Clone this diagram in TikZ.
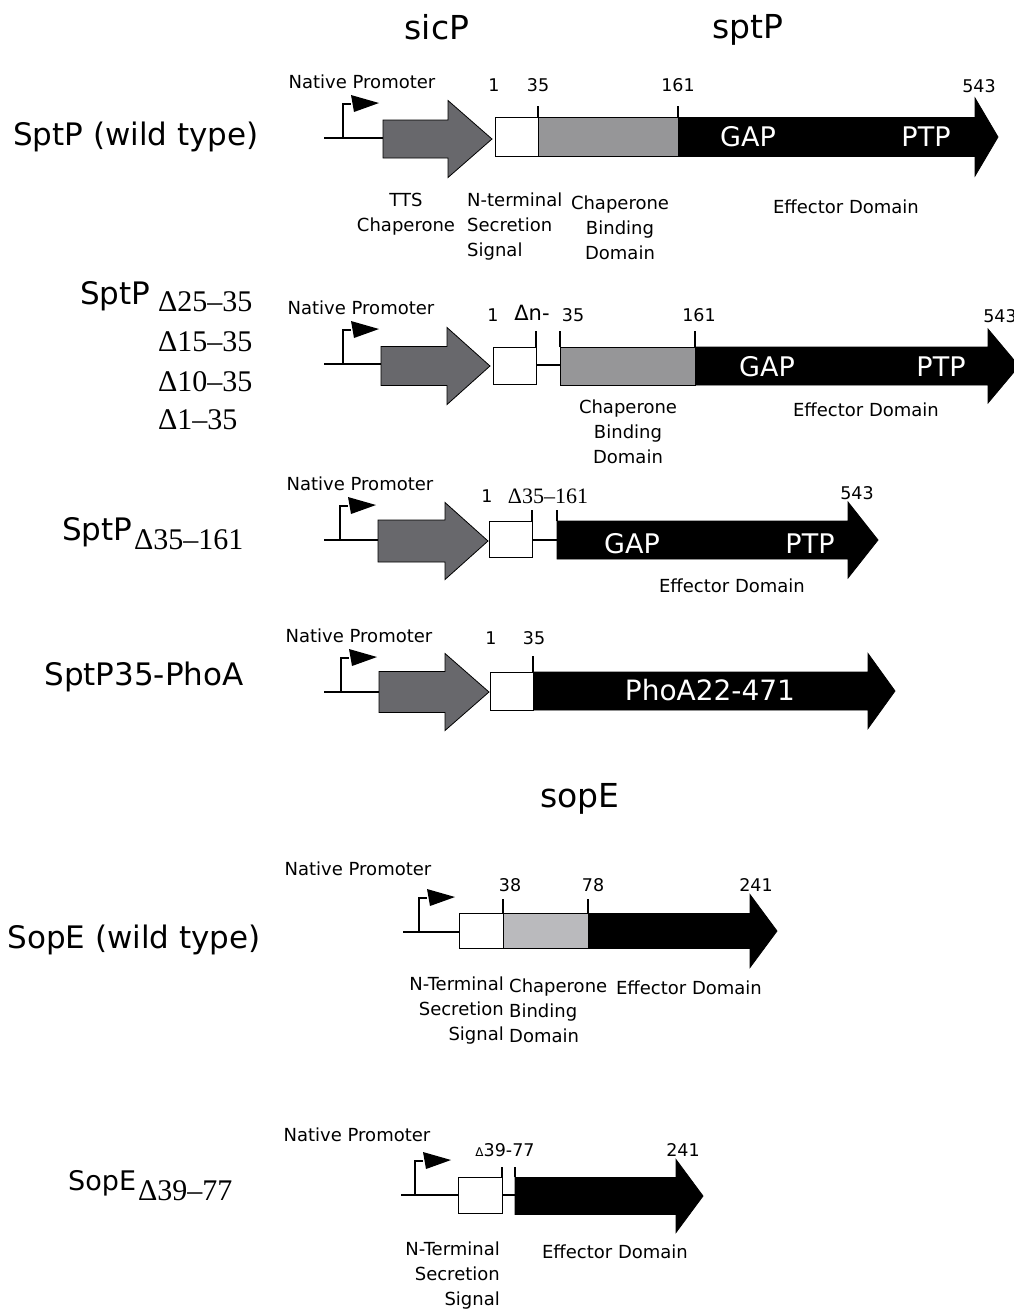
\documentclass[tikz,border=0pt]{standalone}
\usepackage{fontspec}
\setmainfont{DejaVu Sans}
\newfontfamily\serf{Liberation Serif}

% promoter: line start x, line end x, stalk x, line y
\newcommand{\promoter}[4]{%
  \draw[wire] (#1,#4) -- (#2,#4);
  \draw[wire] (#3,#4) -- (#3,#4-34) -- (#3+8,#4-34);
  \fill (#3+8,#4-43) -- (#3+36,#4-35) -- (#3+11,#4-26) -- cycle;}
% block arrow: start x, head x, tip x, mid y, half body, half head, colour
\newcommand{\genearrow}[7]{%
  \filldraw[fill=#7,draw=black,line width=0.8pt] (#1,#4-#5) -- (#2,#4-#5) -- (#2,#4-#6)
    -- (#3,#4) -- (#2,#4+#6) -- (#2,#4+#5) -- (#1,#4+#5) -- cycle;}

\definecolor{sicgray}{RGB}{104,104,108}
\definecolor{cbdgray}{RGB}{150,150,152}
\definecolor{sopgray}{RGB}{186,186,189}

\begin{document}
\begin{tikzpicture}[x=1pt,y=-1pt,
    wire/.style={line width=1.3pt},
    segbox/.style={draw=black,line width=1pt},
    lab/.style={inner sep=0pt,font=\fontsize{18}{25}\selectfont},
    num/.style={inner sep=0pt,font=\fontsize{17.5}{20}\selectfont},
    dom/.style={inner sep=0pt,text=white,font=\fontsize{27}{30}\selectfont},
    big/.style={inner sep=0pt,font=\fontsize{31}{36}\selectfont},
    gene/.style={inner sep=0pt,font=\fontsize{33}{38}\selectfont},
    del/.style={inner sep=0pt,font=\serf\fontsize{30}{34}\selectfont}]
\useasboundingbox (0,0) rectangle (1013,1310);

% titles
\node[gene] (sicP) at (437,27) {sicP};
\node[gene] (sptP) at (748,30) {sptP};
\node[gene] (sopE) at (580,799) {sopE};

% ---- SptP wild type
\node[big] (wt1) at (136,137) {SptP (wild type)};
\node[lab] (np1) at (362,82) {Native Promoter};
\promoter{324}{383}{343}{138}
\genearrow{383}{448}{492}{139}{19}{38.5}{sicgray}
\genearrow{678}{975}{998}{137}{19.5}{39}{black}
\filldraw[fill=cbdgray,segbox,line width=0.6pt] (538,117.5) rectangle (678,156.5);
\draw[segbox,fill=white] (495,117.5) rectangle (538,156.5);
\draw[wire] (538,117.5) -- (538,106);
\draw[wire] (678,117.5) -- (678,106);
\node[num] (a1) at (494,85) {1};
\node[num] (a35) at (538,85) {35};
\node[num] (a161) at (678,85) {161};
\node[num] (a543) at (979,86) {543};
\node[dom] (gap1) at (748,137) {GAP};
\node[dom] (ptp1) at (926,137) {PTP};
\node[lab,align=center] (tts) at (406,214) {TTS\\Chaperone};
\node[lab,align=left,anchor=west] (nts1) at (467,227) {N-terminal\\Secretion\\Signal};
\node[lab,align=center] (cbd1) at (620,228) {Chaperone\\Binding\\Domain};
\node[lab] (eff1) at (846,207) {Effector Domain};

% ---- SptP n-35 deletions
\node[big,anchor=west] (sp2) at (80,296) {SptP};
\node[del,anchor=west] (d25) at (158,302) {Δ25–35};
\node[del,anchor=west] (d15) at (158,342) {Δ15–35};
\node[del,anchor=west] (d10) at (158,382) {Δ10–35};
\node[del,anchor=west] (d1) at (158,420) {Δ1–35};
\node[lab] (np2) at (361,308) {Native Promoter};
\promoter{324}{381}{343}{364}
\genearrow{381}{447}{490}{366}{19.5}{38.5}{sicgray}
\genearrow{695}{988}{1019}{366}{19}{37}{black}
\draw[wire] (536,365) -- (560,365);
\filldraw[fill=cbdgray,segbox,line width=0.6pt] (560,347) rectangle (695,385);
\draw[segbox,fill=white] (493,347) rectangle (536,384);
\draw[wire] (536,347) -- (536,331);
\draw[wire] (560,347) -- (560,331);
\draw[wire] (695,347) -- (695,331);
\node[num] (b1) at (493,315) {1};
\node[inner sep=0pt,font=\fontsize{21}{24}\selectfont] (bdn) at (532,313) {Δn-};
\node[num] (b35) at (573,315) {35};
\node[num] (b161) at (699,315) {161};
\node[num] (b543) at (1000,316) {543};
\node[dom] (gap2) at (767,367) {GAP};
\node[dom] (ptp2) at (941,367) {PTP};
\node[lab,align=center] (cbd2) at (628,432) {Chaperone\\Binding\\Domain};
\node[lab] (eff2) at (866,410) {Effector Domain};

% ---- SptP 35-161 deletion
\node[big,anchor=west] (sp3) at (62,532) {SptP};
\node[del,anchor=west] (d35) at (134,540) {Δ35–161};
\node[lab] (np3) at (360,484) {Native Promoter};
\promoter{324}{378}{340}{540}
\genearrow{378}{445}{488}{541}{21}{38.5}{sicgray}
\genearrow{557}{848}{878}{540}{19}{38}{black}
\draw[wire] (532,540) -- (557,540);
\draw[segbox,fill=white] (489,521) rectangle (532,557);
\draw[wire] (532,521) -- (532,510);
\draw[wire] (557,521) -- (557,510);
\node[num] (c1) at (487,496) {1};
\node[inner sep=0pt,font=\serf\fontsize{22}{24}\selectfont] (cd) at (548,496) {Δ35–161};
\node[num] (c543) at (857,493) {543};
\node[dom] (gap3) at (632,544) {GAP};
\node[dom] (ptp3) at (810,544) {PTP};
\node[lab] (eff3) at (732,586) {Effector Domain};

% ---- SptP35-PhoA
\node[big] (pho) at (144,677) {SptP35-PhoA};
\node[lab] (np4) at (359,636) {Native Promoter};
\promoter{324}{379}{341}{692}
\genearrow{379}{445}{489}{692}{20.5}{38.5}{sicgray}
\genearrow{533}{868}{895}{691}{19}{37.5}{black}
\draw[segbox,fill=white] (490,672) rectangle (533,710);
\draw[wire] (533,672) -- (533,656);
\node[num] (e1) at (491,638) {1};
\node[num] (e35) at (534,638) {35};
\node[dom,font=\fontsize{28}{30}\selectfont] (phoa) at (710,690) {PhoA22-471};

% ---- SopE wild type
\node[big] (wt5) at (134,940) {SopE (wild type)};
\node[lab] (np5) at (358,869) {Native Promoter};
\promoter{403}{459}{419}{932}
\genearrow{588}{750}{777}{931}{17.5}{36.5}{black}
\filldraw[fill=sopgray,segbox,line width=0.6pt] (503,913) rectangle (588,948);
\draw[segbox,fill=white] (459,913) rectangle (503,948);
\draw[wire] (503,913) -- (503,899);
\draw[wire] (588,913) -- (588,899);
\node[num] (f38) at (510,885) {38};
\node[num] (f78) at (593,885) {78};
\node[num] (f241) at (756,885) {241};
\node[lab,align=right,anchor=east] (nts5) at (504,1011) {N-Terminal\\Secretion\\Signal};
\node[lab,align=left,anchor=west] (cbd5) at (509,1011) {Chaperone\\Binding\\Domain};
\node[lab] (eff5) at (689,988) {Effector Domain};

% ---- SopE 39-77 deletion
\node[big,anchor=west,font=\fontsize{27}{32}\selectfont] (sp6) at (68,1183) {SopE};
\node[del,anchor=west] (d39) at (138,1191) {Δ39–77};
\node[lab] (np6) at (357,1135) {Native Promoter};
\promoter{401}{458}{415}{1195}
\genearrow{515}{676}{703}{1196}{18.5}{36.5}{black}
\draw[wire] (502,1195) -- (515,1195);
\draw[segbox,fill=white] (458,1177) rectangle (502,1213);
\draw[wire] (502,1177) -- (502,1167);
\draw[wire] (515,1177) -- (515,1167);
\node[num] (g39) at (505,1150) {{\fontsize{12}{12}\selectfont Δ}39-77};
\node[num] (g241) at (683,1150) {241};
\node[lab,align=right,anchor=east] (nts6) at (500,1276) {N-Terminal\\Secretion\\Signal};
\node[lab] (eff6) at (615,1252) {Effector Domain};
\end{tikzpicture}
\end{document}
